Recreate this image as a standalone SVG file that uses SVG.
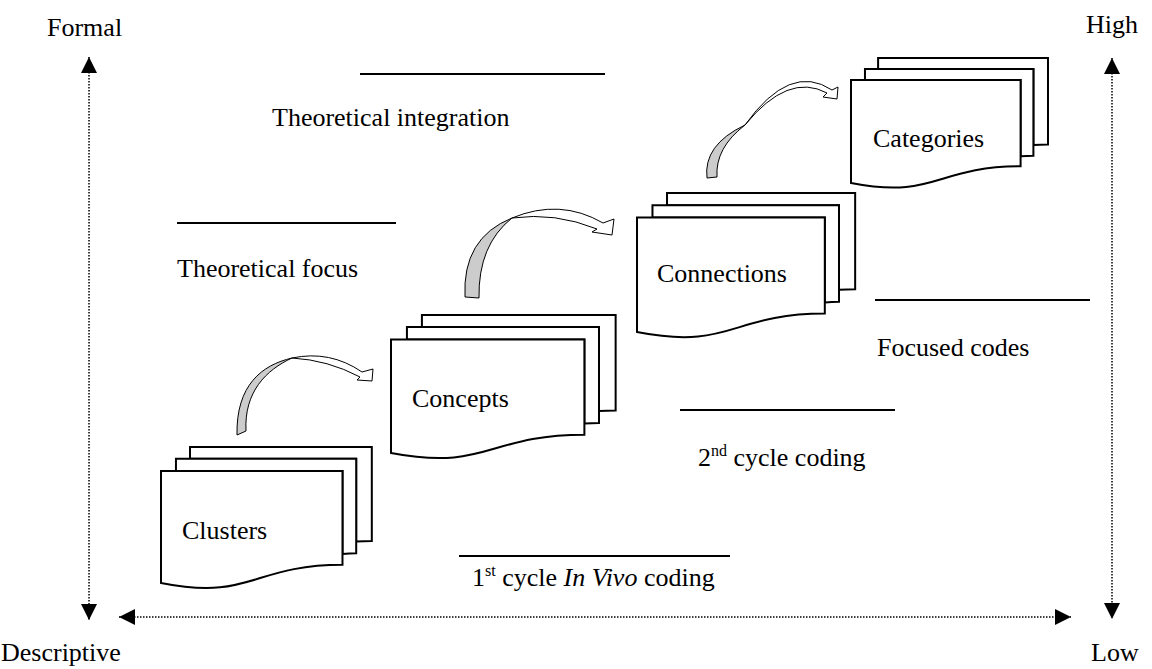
<svg xmlns="http://www.w3.org/2000/svg" width="1152" height="669" viewBox="0 0 1152 669">
<style>
text{font-family:"Liberation Serif","Times New Roman",serif;font-size:26px;fill:#000}
.sup{font-size:16px}
.rule{stroke:#000;stroke-width:2}
.axis{stroke:#000;stroke-width:1.5;stroke-dasharray:1.5 1.5;fill:none}
.page{fill:#fff;stroke:#000;stroke-width:2;vector-effect:non-scaling-stroke}
.gray{fill:#cccccc;stroke:#000;stroke-width:1}
.white{fill:#fff;stroke:#000;stroke-width:1}
</style>
<defs>
<marker id="tri" markerUnits="userSpaceOnUse" viewBox="0 0 16 16" markerWidth="16" markerHeight="16" refX="16" refY="8" orient="auto-start-reverse">
<path d="M0,0 L16,8 L0,16 Z" fill="#000"/>
</marker>
<g id="multidoc">
<path class="page" d="M2972,1815 L2972,0 L21600,0 L21600,14392 C20800,14392 20000,14467 20000,14467 L20000,1815 Z"/>
<path class="page" d="M1532,3675 L1532,1815 L20000,1815 L20000,16252 C19298,16252 18595,16352 18595,16352 L18595,3675 Z"/>
<path class="page" d="M0,20782 C9298,23542 9298,18022 18595,18022 L18595,3675 L0,3675 Z"/>
</g>
</defs>

<g id="axes">
<line class="axis" x1="89" y1="57" x2="89" y2="620" marker-start="url(#tri)" marker-end="url(#tri)"/>
<line class="axis" x1="119" y1="617" x2="1071" y2="617" marker-start="url(#tri)" marker-end="url(#tri)"/>
<line class="axis" x1="1112" y1="58" x2="1112" y2="619" marker-start="url(#tri)" marker-end="url(#tri)"/>
<text x="47" y="36">Formal</text>
<text x="1" y="661">Descriptive</text>
<text x="1086" y="33">High</text>
<text x="1091" y="661">Low</text>
</g>

<g id="levels">
<line class="rule" x1="360" y1="74" x2="605" y2="74"/>
<text x="272" y="126">Theoretical integration</text>
<line class="rule" x1="177" y1="223" x2="396" y2="223"/>
<text x="177" y="277">Theoretical focus</text>
<line class="rule" x1="875" y1="300" x2="1090" y2="300"/>
<text x="877" y="356">Focused codes</text>
<line class="rule" x1="680" y1="410" x2="895" y2="410"/>
<text x="698" y="466">2<tspan class="sup" dy="-10">nd</tspan><tspan dy="10"> cycle coding</tspan></text>
<line class="rule" x1="459" y1="556" x2="730" y2="556"/>
<text x="472" y="586">1<tspan class="sup" dy="-10">st</tspan><tspan dy="10"> cycle </tspan><tspan font-style="italic">In Vivo</tspan> coding</text>
</g>

<g id="clusters">
<use href="#multidoc" transform="translate(161,447) scale(0.00976,0.00654)"/>
<text x="182" y="539">Clusters</text>
</g>
<g id="concepts">
<use href="#multidoc" transform="translate(391,315) scale(0.0104,0.00664)"/>
<text x="412" y="407">Concepts</text>
</g>
<g id="connections">
<use href="#multidoc" transform="translate(637,193) scale(0.0101,0.00669)"/>
<text x="657" y="282">Connections</text>
</g>
<g id="categories">
<use href="#multidoc" transform="translate(851,58) scale(0.00912,0.00601)"/>
<text x="873" y="147">Categories</text>
</g>

<g id="connectors">
<g id="arrow1">
<path class="gray" d="M237,435 C236,385 262,365 292,358 C266,370 244,392 246,431 Z"/>
<path class="white" d="M292,358 Q330,350 362,372 L373,369 L372,381 L357,380 L360,377 Q328,360 292,358 Z"/>
</g>
<g id="arrow2">
<path class="gray" d="M465,297 Q462,238 512,218 Q478,245 479,298 Z"/>
<path class="white" d="M512,218 Q560,198 603,223 L614,219 L612,235 L592,232 L597,229 Q555,212 512,218 Z"/>
</g>
<g id="arrow3">
<path class="gray" d="M707,178 Q703,145 745,125 Q715,148 717,177 Z"/>
<path class="white" d="M745,125 Q790,62 832,90 L838,87 L837,99 L823,97 L827,93 Q788,72 745,125 Z"/>
</g>
</g>
</svg>
